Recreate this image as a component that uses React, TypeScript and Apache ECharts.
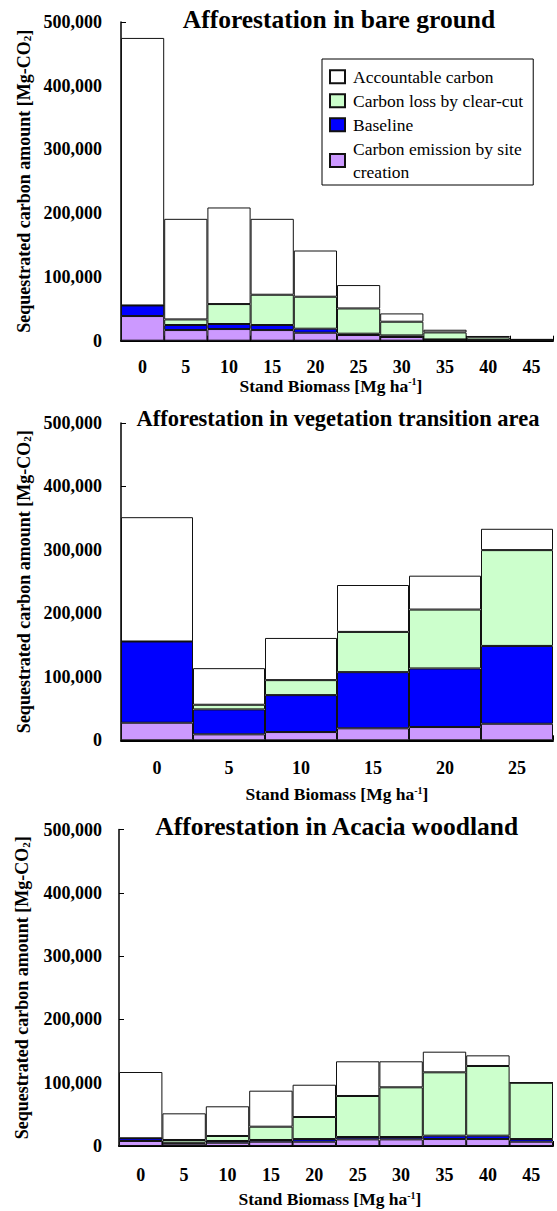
import React, { useEffect, useRef } from "react";
import * as echarts from "echarts";

const FONT = "Liberation Serif, Times New Roman, serif";

const NAME_ACC = "Accountable carbon";
const NAME_LOSS = "Carbon loss by clear-cut";
const NAME_BASE = "Baseline";
const NAME_EMIS = "Carbon emission by site creation";

const COLOR_ACC = "#ffffff";
const COLOR_LOSS = "#ccffcc";
const COLOR_BASE = "#0000ff";
const COLOR_EMIS = "#cc99ff";

const titles = [
  "Afforestation in bare ground",
  "Afforestation in vegetation transition area",
  "Afforestation in Acacia woodland",
];

const yTicks = [0, 100000, 200000, 300000, 400000, 500000];

// Panel 1: bare ground
const bareBiomass = ["0", "5", "10", "15", "20", "25", "30", "35", "40", "45"];
const bareEmission = [38700, 16700, 18300, 16700, 12500, 8900, 5800, 1500, 800, 500];
const bareBaseline = [16600, 7900, 7900, 7900, 6300, 2100, 2500, 500, 400, 300];
const bareLoss = [0, 8800, 31300, 47500, 50200, 39600, 21500, 11000, 4000, 800];
const bareAccountable = [419700, 157800, 151500, 119100, 72500, 36700, 13000, 4200, 2200, 800];

// Panel 2: vegetation transition area
const transBiomass = ["0", "5", "10", "15", "20", "25"];
const transEmission = [27700, 9400, 13000, 18900, 20900, 26100];
const transBaseline = [128000, 39300, 58200, 88500, 92300, 122600];
const transLoss = [0, 7300, 23600, 63400, 92800, 151000];
const transAccountable = [195900, 57700, 66500, 73900, 53400, 33600];

// Panel 3: Acacia woodland
const acaciaBiomass = ["0", "5", "10", "15", "20", "25", "30", "35", "40", "45"];
const acaciaEmission = [7900, 3700, 5200, 6800, 6800, 10500, 10500, 11000, 11000, 6800];
const acaciaBaseline = [4300, 1500, 2700, 2700, 4200, 3700, 3700, 5300, 5300, 4200];
const acaciaLoss = [0, 4300, 7900, 21000, 34800, 64800, 78500, 100100, 110100, 89000];
const acaciaAccountable = [104700, 42100, 46900, 56900, 51000, 54800, 41100, 32600, 16800, 0];

const panels = [
  { cats: bareBiomass, emis: bareEmission, base: bareBaseline, loss: bareLoss, acc: bareAccountable },
  { cats: transBiomass, emis: transEmission, base: transBaseline, loss: transLoss, acc: transAccountable },
  { cats: acaciaBiomass, emis: acaciaEmission, base: acaciaBaseline, loss: acaciaLoss, acc: acaciaAccountable },
];

const grids = [
  { left: 121, top: 22, width: 432, height: 318.7 },
  { left: 121, top: 423, width: 432, height: 317.3 },
  { left: 119, top: 829.5, width: 434, height: 316.5 },
];
const labelMargins = [17, 19, 20];
const nameGaps = [34, 45, 44];
const yLabelMargins = [19, 19, 17];
const titlePos = [
  { x: 339, y: 19.7, size: 25.5 },
  { x: 338, y: 418.1, size: 22.5 },
  { x: 336.7, y: 826.4, size: 25.5 },
];

export default function App() {
  const ref = useRef<HTMLDivElement>(null);

  useEffect(() => {
    if (!ref.current) return;
    const chart = echarts.init(ref.current, null, { renderer: "svg" });

    const xAxes: any[] = [];
    const yAxes: any[] = [];
    const series: any[] = [];

    panels.forEach((p, i) => {
      xAxes.push({
        type: "category",
        gridIndex: i,
        data: p.cats,
        axisLine: { show: true, lineStyle: { color: "#000", width: 2 } },
        axisTick: { show: true, inside: true, length: 5, lineStyle: { color: "#000" } },
        axisLabel: {
          color: "#000",
          fontFamily: FONT,
          fontWeight: "bold",
          fontSize: 18,
          margin: labelMargins[i],
        },
        name: "Stand Biomass [Mg ha{sup|-1}]",
        nameLocation: "middle",
        nameGap: nameGaps[i],
        nameTextStyle: {
          color: "#000",
          fontFamily: FONT,
          fontWeight: "bold",
          fontSize: 17.5,
          padding: i === 1 ? [0, 0, 0, 0] : [0, 12, 0, 0],
          rich: {
            sup: {
              color: "#000",
              fontFamily: FONT,
              fontWeight: "bold",
              fontSize: 10,
              verticalAlign: "top",
              lineHeight: 12,
            },
          },
        },
      });
      yAxes.push({
        type: "value",
        gridIndex: i,
        min: 0,
        max: 500000,
        interval: 100000,
        splitLine: { show: false },
        axisLine: { show: true, lineStyle: { color: "#000", width: 1.5 } },
        axisTick: { show: true, inside: true, length: 5, lineStyle: { color: "#000" } },
        axisLabel: {
          color: "#000",
          fontFamily: FONT,
          fontWeight: "bold",
          fontSize: 18,
          margin: yLabelMargins[i],
          formatter: (v: number) => (yTicks.includes(v) ? v.toLocaleString("en-US") : ""),
        },
        name: "Sequestrated carbon amount [Mg-CO{sub|2}]",
        nameLocation: "middle",
        nameGap: 88,
        nameTextStyle: {
          color: "#000",
          fontFamily: FONT,
          fontWeight: "bold",
          fontSize: 18,
          rich: {
            sub: {
              color: "#000",
              fontFamily: FONT,
              fontWeight: "bold",
              fontSize: 11,
              verticalAlign: "bottom",
              lineHeight: 11,
              padding: [8, 0, 0, 0],
            },
          },
        },
      });

      const common = {
        type: "bar",
        xAxisIndex: i,
        yAxisIndex: i,
        stack: "s" + i,
        barWidth: "100%",
        barCategoryGap: "0%",
      };
      series.push({
        ...common,
        name: NAME_EMIS,
        data: p.emis,
        itemStyle: { color: COLOR_EMIS, borderColor: "#111", borderWidth: 1 },
      });
      series.push({
        ...common,
        name: NAME_BASE,
        data: p.base,
        itemStyle: { color: COLOR_BASE, borderColor: "#111", borderWidth: 1 },
      });
      series.push({
        ...common,
        name: NAME_LOSS,
        data: p.loss,
        itemStyle: { color: COLOR_LOSS, borderColor: "#111", borderWidth: 1 },
      });
      series.push({
        ...common,
        name: NAME_ACC,
        data: p.acc,
        itemStyle: { color: COLOR_ACC, borderColor: "#111", borderWidth: 1 },
      });
    });

    const graphic = titles.map((t, i) => ({
      type: "text",
      x: titlePos[i].x,
      y: titlePos[i].y,
      z: 100,
      style: {
        text: t,
        fill: "#000",
        font: `bold ${titlePos[i].size}px ${FONT}`,
        textAlign: "center",
        textVerticalAlign: "middle",
      },
    }));

    chart.setOption({
      animation: false,
      backgroundColor: "#fff",
      grid: grids.map((g) => ({ ...g, containLabel: false })),
      xAxis: xAxes,
      yAxis: yAxes,
      series,
      graphic,
      legend: {
        data: [NAME_ACC, NAME_LOSS, NAME_BASE, NAME_EMIS],
        orient: "vertical",
        left: 322,
        top: 59,
        padding: [6, 10, 1, 7],
        backgroundColor: "#fff",
        borderColor: "#000",
        borderWidth: 1,
        borderRadius: 0,
        itemWidth: 15,
        itemHeight: 13,
        itemGap: 0.5,
        icon: "rect",
        selectedMode: false,
        formatter: (name: string) =>
          name === NAME_EMIS ? "Carbon emission by site\ncreation" : name,
        textStyle: {
          color: "#000",
          fontFamily: FONT,
          fontWeight: "normal",
          fontSize: 17.5,
          lineHeight: 23.5,
          padding: [0, 0, 0, 3],
        },
      },
    });

    return () => {
      chart.dispose();
    };
  }, []);

  return (
    <div
      ref={ref}
      style={{ position: "absolute", left: 0, top: 0, width: 557, height: 1211 }}
    />
  );
}
